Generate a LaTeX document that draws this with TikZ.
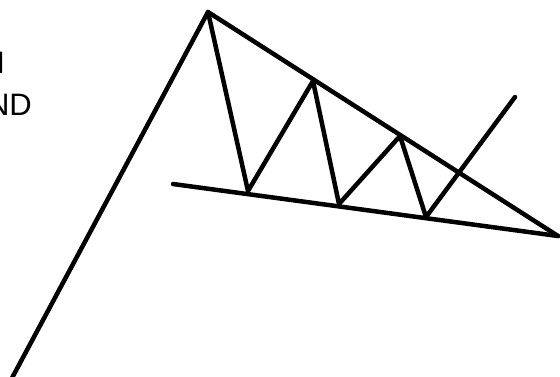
\documentclass[tikz,border=0pt]{standalone}
\usepackage{fontspec}
\setmainfont{Liberation Sans}
\begin{document}
\begin{tikzpicture}[x=1pt,y=-1pt,
  trend/.style={line width=4.5pt,line cap=round,line join=round,black},
  lbl/.style={inner sep=0pt,anchor=base east,font=\fontsize{31}{31}\selectfont}]
\useasboundingbox (0,0) rectangle (560,376);
\clip (0,0) rectangle (560,376);
\fill[white] (0,0) rectangle (560,376);
\coordinate (start) at (12,378);
\coordinate (apex) at (208,12);
\coordinate (tip) at (558,236);
\coordinate (lowstart) at (173,184);
\coordinate (b1) at (248,191);
\coordinate (t1) at (313,81);
\coordinate (b2) at (339,204);
\coordinate (t2) at (400,136);
\coordinate (b3) at (426,217);
\coordinate (brk) at (515,97);
\node[lbl] (txt1) at (5,73) {N};
\node[lbl] (txt2) at (32,115) {ND};
\draw[trend] (start) -- (apex) -- (tip);
\draw[trend] (lowstart) -- (tip);
\draw[trend] (apex) -- (b1) -- (t1) -- (b2) -- (t2) -- (b3) -- (brk);
\end{tikzpicture}
\end{document}
